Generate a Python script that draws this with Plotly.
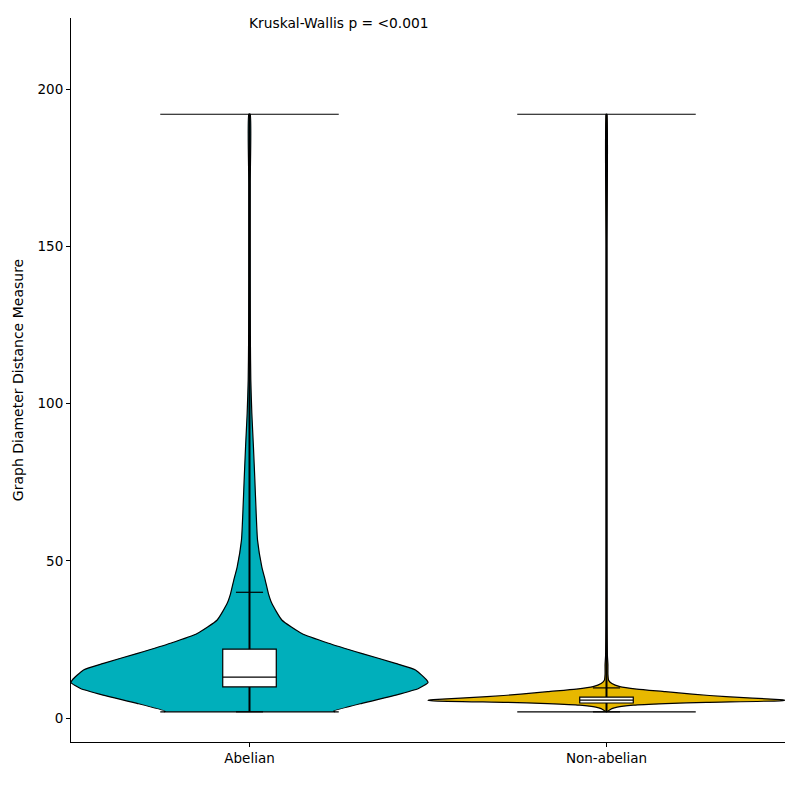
import plotly.graph_objects as go

# ---------------- data ----------------
groups = ["Abelian", "Non-abelian"]
colors = ["#00AFBB", "#E7B800"]

# violin density profiles (value levels and relative half-widths, peak = 1)
abelian_y = [2.0, 2.2, 4.7, 7.3, 9.4, 11.3, 12.1, 15.3, 17.4, 20.6, 23.8, 26.9, 31.2,
             36.5, 39.6, 43.9, 48.1, 56.6, 65.0, 75.7, 86.3, 97.0, 107.5, 120.0, 140.0, 170.0, 192.0]
abelian_w = [0.48, 0.47, 0.63, 0.82, 0.947, 1.0, 0.993, 0.93, 0.818, 0.627, 0.443, 0.293, 0.181,
             0.125, 0.106, 0.088, 0.069, 0.045, 0.0375, 0.03, 0.022, 0.013, 0.0073, 0.005, 0.004, 0.004, 0.004]

nonab_y = [2.0, 3.0, 3.5, 4.1, 4.6, 5.0, 5.5, 5.7, 5.9, 6.8, 7.6, 8.4, 9.2, 10.0, 11.0, 12.0,
           14.0, 17.0, 20.0, 30.0, 60.0, 100.0, 150.0, 192.0]
nonab_w = [0.0, 0.03, 0.06, 0.15, 0.33, 0.56, 0.97, 1.0, 0.97, 0.67, 0.48, 0.33, 0.17, 0.075, 0.03,
           0.012, 0.008, 0.008, 0.005, 0.003, 0.002, 0.002, 0.002, 0.002]

# summary statistics
mins = [2.0, 2.0]
maxs = [192.0, 192.0]
q1 = [9.9, 4.8]
medians = [13.0, 5.7]
q3 = [21.9, 6.7]
whisker_lo = [2.0, 2.0]
whisker_hi = [40.0, 9.6]

pvalue_text = "Kruskal-Wallis p = <0.001"
y_title = "Graph Diameter Distance Measure"

# ---------------- figure ----------------
violin_half = 0.5
box_half = 0.075
cap_half = 0.038
extrema_half = 0.25

profiles = [(abelian_y, abelian_w), (nonab_y, nonab_w)]

fig = go.Figure()
for i, (ys, ws) in enumerate(profiles):
    xr = [i + violin_half * w for w in ws]
    xl = [i - violin_half * w for w in ws]
    fig.add_trace(go.Scatter(
        x=xr + xl[::-1], y=ys + ys[::-1],
        mode="lines", fill="toself", fillcolor=colors[i],
        line=dict(color="black", width=1.2, shape="spline", smoothing=0.5),
        hoverinfo="skip", showlegend=False,
    ))

shapes = []
for i in range(len(groups)):
    # extrema lines
    shapes.append(dict(type="line", x0=i, x1=i, y0=mins[i], y1=maxs[i],
                       line=dict(color="black", width=2)))
    shapes.append(dict(type="line", x0=i - extrema_half, x1=i + extrema_half, y0=maxs[i], y1=maxs[i],
                       line=dict(color="black", width=1.2)))
    shapes.append(dict(type="line", x0=i - extrema_half, x1=i + extrema_half, y0=mins[i], y1=mins[i],
                       line=dict(color="black", width=1.2)))
    # whisker caps
    for wv in (whisker_lo[i], whisker_hi[i]):
        shapes.append(dict(type="line", x0=i - cap_half, x1=i + cap_half, y0=wv, y1=wv,
                           line=dict(color="black", width=1.2)))
    # box
    shapes.append(dict(type="rect", x0=i - box_half, x1=i + box_half, y0=q1[i], y1=q3[i],
                       fillcolor="white", line=dict(color="black", width=1.2)))
    shapes.append(dict(type="line", x0=i - box_half, x1=i + box_half, y0=medians[i], y1=medians[i],
                       line=dict(color="black", width=1.2)))

fig.update_layout(
    width=800, height=800,
    margin=dict(l=71, r=15, t=18, b=58),
    paper_bgcolor="white", plot_bgcolor="white",
    font=dict(family="DejaVu Sans", size=13.5, color="black"),
    shapes=shapes,
    showlegend=False,
    annotations=[dict(x=0, y=221, xref="x", yref="y", text=pvalue_text, showarrow=False,
                      xanchor="left", yanchor="middle", xshift=-3, font=dict(size=13.8))],
)
fig.update_xaxes(range=[-0.5, 1.5], tickvals=list(range(len(groups))), ticktext=groups,
                 showline=True, linecolor="black", linewidth=1, mirror=False,
                 ticks="outside", ticklen=4, tickcolor="black", showgrid=False, zeroline=False)
fig.update_yaxes(range=[-7.6, 222.6], tickvals=[0, 50, 100, 150, 200],
                 showline=True, linecolor="black", linewidth=1, mirror=False,
                 ticks="outside", ticklen=4, tickcolor="black", showgrid=False, zeroline=False,
                 title=dict(text=y_title, font=dict(size=14), standoff=10))

fig.write_html("out.html")
